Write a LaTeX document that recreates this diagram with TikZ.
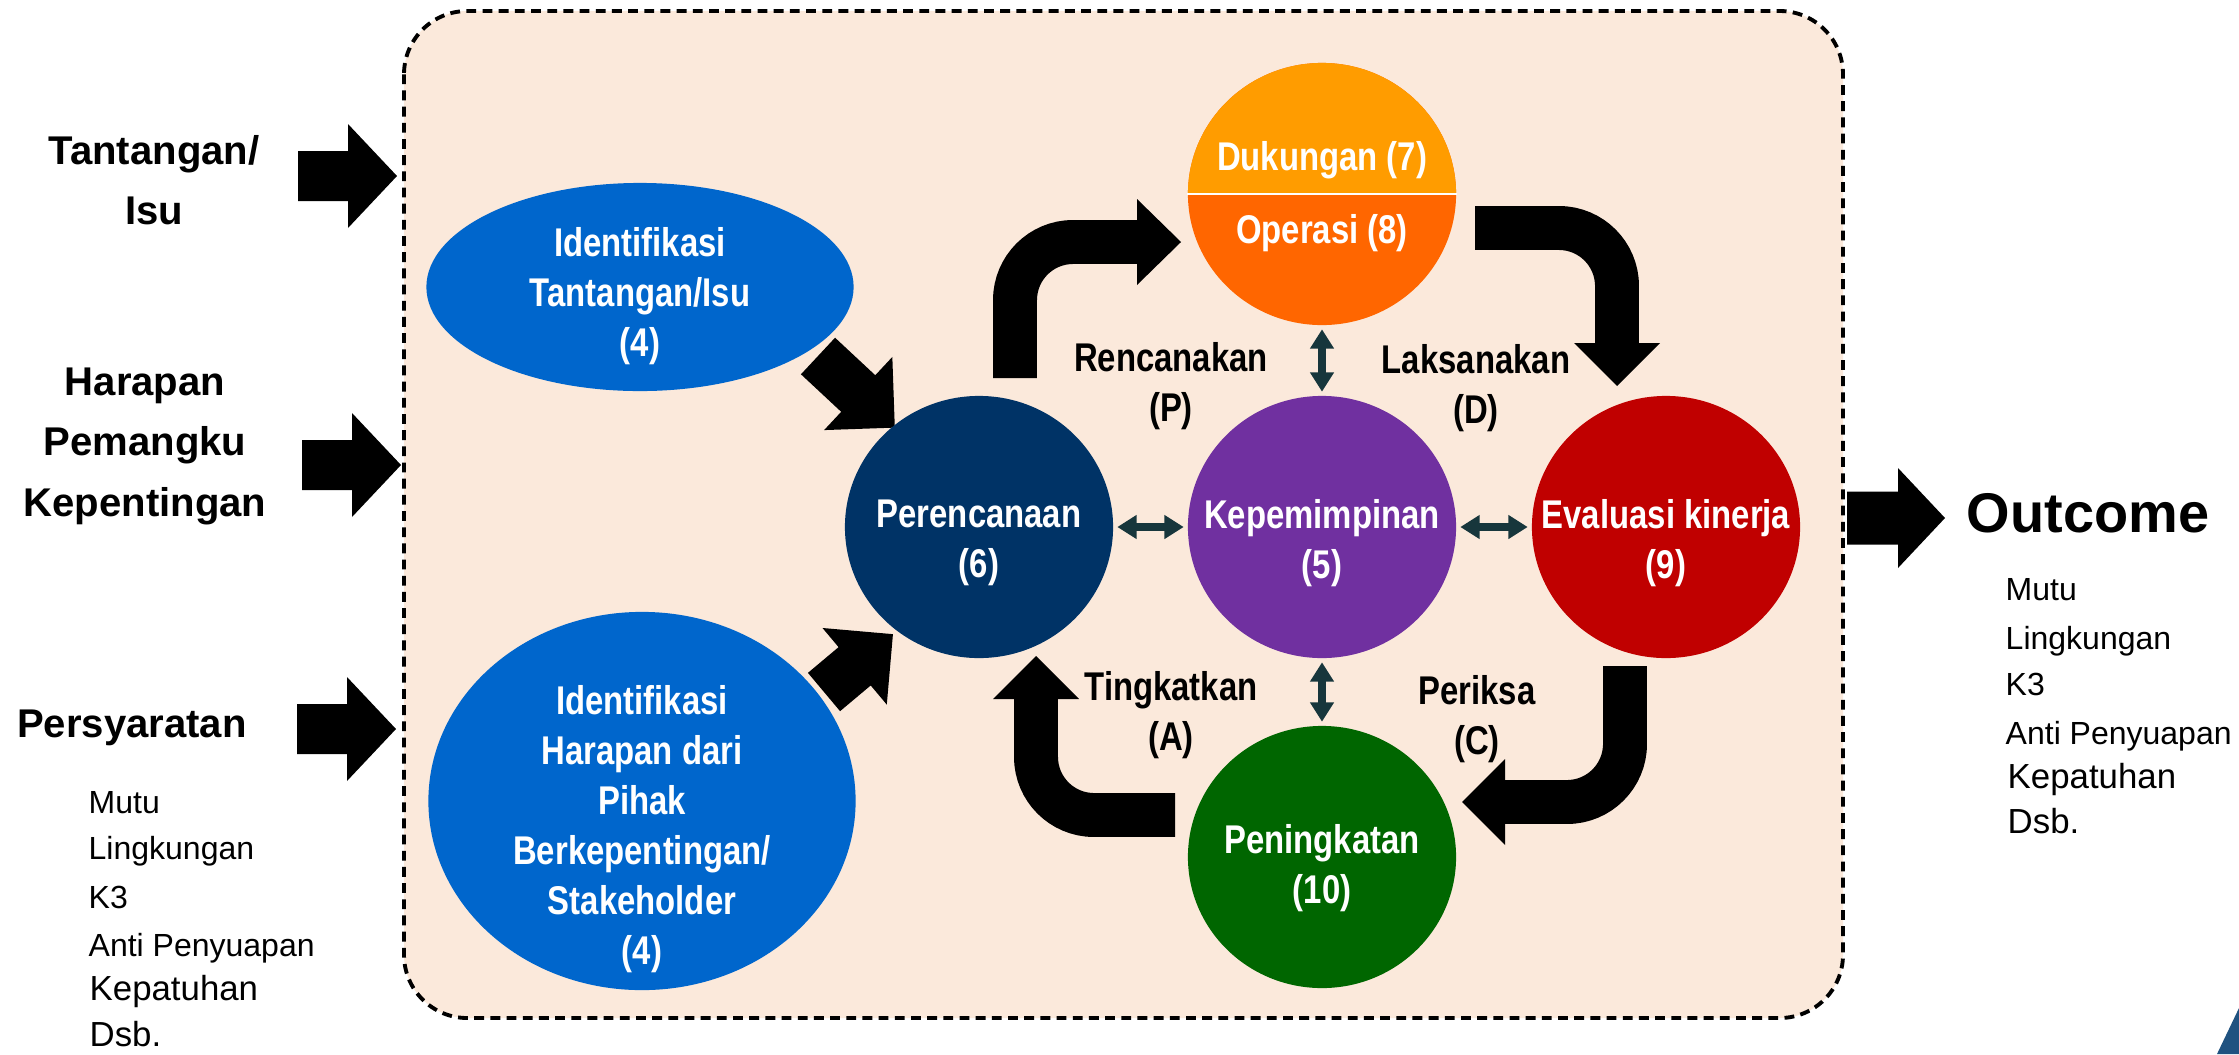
\documentclass[tikz,border=0pt]{standalone}
\usepackage{fontspec}
\setmainfont{Liberation Sans}
\newfontfamily\nb[FakeStretch=0.82]{Liberation Sans}
\usetikzlibrary{shapes.geometric,arrows.meta}
\definecolor{peach}{HTML}{FBE9DB}
\definecolor{blueE}{HTML}{0066CC}
\definecolor{navy}{HTML}{003366}
\definecolor{purp}{HTML}{7030A0}
\definecolor{redE}{HTML}{C00000}
\definecolor{greenE}{HTML}{006600}
\definecolor{orT}{HTML}{FF9C00}
\definecolor{orB}{HTML}{FF6600}
\definecolor{dteal}{HTML}{17363C}
\definecolor{logoblue}{HTML}{1F5280}
\newcommand{\blockarrow}[8]{%
  \begin{scope}[shift={(#2,#3)},rotate=#4]
    \fill[black] (0,{-#6/2}) -- ({#5-#8},{-#6/2}) -- ({#5-#8},{-#7/2}) -- (#5,0)
      -- ({#5-#8},{#7/2}) -- ({#5-#8},{#6/2}) -- (0,{#6/2}) -- cycle;
    \coordinate (#1) at (#5,0);
  \end{scope}}
\tikzset{
  circ/.style={ellipse, minimum width=2.68cm, minimum height=2.62cm, inner sep=0pt},
  blueell/.style={ellipse, fill=blueE, minimum width=4.27cm, inner sep=0pt},
  ctext/.style={text=white, align=center, inner sep=0pt, font=\nb\bfseries\fontsize{11.4pt}{14.2pt}\selectfont},
  lbl/.style={text=black, align=center, inner sep=0pt, font=\nb\bfseries\fontsize{11.4pt}{14.2pt}\selectfont},
  heading/.style={align=center, inner sep=0pt, font=\bfseries\fontsize{11.4pt}{17.2pt}\selectfont},
  item/.style={anchor=base west, inner sep=0pt, font=\fontsize{9.1pt}{11pt}\selectfont},
  itemb/.style={anchor=base west, inner sep=0pt, font=\fontsize{9.9pt}{12pt}\selectfont},
  dbl/.style={draw=dteal, line width=2pt, {Triangle[length=5.5pt,width=6.5pt]}-{Triangle[length=5.5pt,width=6.5pt]}, shorten <=1pt, shorten >=1pt},
  bent/.style={draw=black, line width=12.5pt, rounded corners=16.5pt},
  dashbox/.style={draw=black, line width=1.1pt, dash pattern=on 2.8pt off 1.8pt, fill=peach, rounded corners=18pt}
}
\begin{document}
\begin{tikzpicture}[x=0.01cm,y=-0.01cm]
\useasboundingbox (0,0) rectangle (2239,1054);

% frame
\draw[dashbox] (404,11) rectangle (1843,1018);

% left headings and inputs
\node[heading] (h1) at (154,180) {Tantangan/\\Isu};
\node[heading] (h2) at (145,446) {Harapan\\Pemangku\\Kepentingan};
\node[heading] (h3) at (132,728) {Persyaratan};
\blockarrow{in1}{298}{176}{0}{99}{50}{104}{49}
\blockarrow{in2}{302}{465}{0}{99}{50}{104}{49}
\blockarrow{in3}{297}{729}{0}{99}{50}{104}{49}

\node[item]  (l1) at (88,813) {Mutu};
\node[item]  (l2) at (88,859) {Lingkungan};
\node[item]  (l3) at (88,908) {K3};
\node[item]  (l4) at (88,956) {Anti Penyuapan};
\node[itemb] (l5) at (89,1000) {Kepatuhan};
\node[itemb] (l6) at (89,1046) {Dsb.};

% blue ellipses
\node[blueell, minimum height=2.08cm] (issue) at (640,287) {};
\node[ctext] (issuet) at (640,296) {Identifikasi\\Tantangan/Isu\\(4)};
\node[blueell, minimum height=3.78cm] (stake) at (642,801) {};
\node[ctext] (staket) at (642,829) {Identifikasi\\Harapan dari\\Pihak\\Berkepentingan/\\Stakeholder\\(4)};

% diagonal arrows into Perencanaan
\blockarrow{d1}{818}{356}{-43}{105}{50}{100}{50}
\blockarrow{d2}{824}{692}{40}{90}{50}{100}{50}

% circles
\node[circ, fill=navy] (plan) at (979,527) {};
\node[ctext] (plant) at (979,543) {Perencanaan\\(6)};
\node[circ, fill=purp] (lead) at (1322,527) {};
\node[ctext] (leadt) at (1322,543) {Kepemimpinan\\(5)};
\node[circ, fill=redE] (eval) at (1666,527) {};
\node[ctext] (evalt) at (1666,543) {Evaluasi kinerja\\(9)};
\node[circ, fill=greenE] (impr) at (1322,857) {};
\node[ctext] (imprt) at (1322,868) {Peningkatan\\(10)};
\node[circ, fill=orB] (supp) at (1322,194) {};
\begin{scope}
  \clip (1150,0) rectangle (1500,194);
  \node[circ, fill=orT] (supptop) at (1322,194) {};
\end{scope}
\draw[white, line width=0.6pt] (supp.west) -- (supp.east);
\node[ctext] (suppt1) at (1322,160) {Dukungan (7)};
\node[ctext] (suppt2) at (1322,233) {Operasi (8)};

% double arrows
\draw[dbl] (supp.south) -- (lead.north);
\draw[dbl] (lead.south) -- (impr.north);
\draw[dbl] (plan.east) -- (lead.west);
\draw[dbl] (lead.east) -- (eval.west);

% PDCA labels
\node[lbl] (lp) at (1171,386) {Rencanakan\\(P)};
\node[lbl] (ld) at (1476,388) {Laksanakan\\(D)};
\node[lbl] (la) at (1171,715) {Tingkatkan\\(A)};
\node[lbl] (lc) at (1477,719) {Periksa\\(C)};

% bent cycle arrows
\draw[bent] (1015,378) -- (1015,242) -- (1138,242);
\fill[black] (1137,199) -- (1181,242) -- (1137,285) -- cycle;
\draw[bent] (1475,228) -- (1617,228) -- (1617,344);
\fill[black] (1574,343) -- (1617,386) -- (1660,343) -- cycle;
\draw[bent] (1625,666) -- (1625,802) -- (1504,802);
\fill[black] (1505,759) -- (1462,802) -- (1505,845) -- cycle;
\draw[bent] (1175,815) -- (1036,815) -- (1036,698);
\fill[black] (993,699) -- (1036,656) -- (1079,699) -- cycle;

% outcome
\blockarrow{out}{1847}{518}{0}{98}{53}{100}{47}
\node[inner sep=0pt, font=\bfseries\fontsize{15.9pt}{18pt}\selectfont] (outc) at (2088,513) {Outcome};
\node[item]  (r1) at (2005,600) {Mutu};
\node[item]  (r2) at (2005,649) {Lingkungan};
\node[item]  (r3) at (2005,695) {K3};
\node[item]  (r4) at (2005,744) {Anti Penyuapan};
\node[itemb] (r5) at (2007,788) {Kepatuhan};
\node[itemb] (r6) at (2007,833) {Dsb.};

% corner fragment
\fill[logoblue] (2217,1054) -- (2239,1008) -- (2239,1054) -- cycle;
\end{tikzpicture}
\end{document}
